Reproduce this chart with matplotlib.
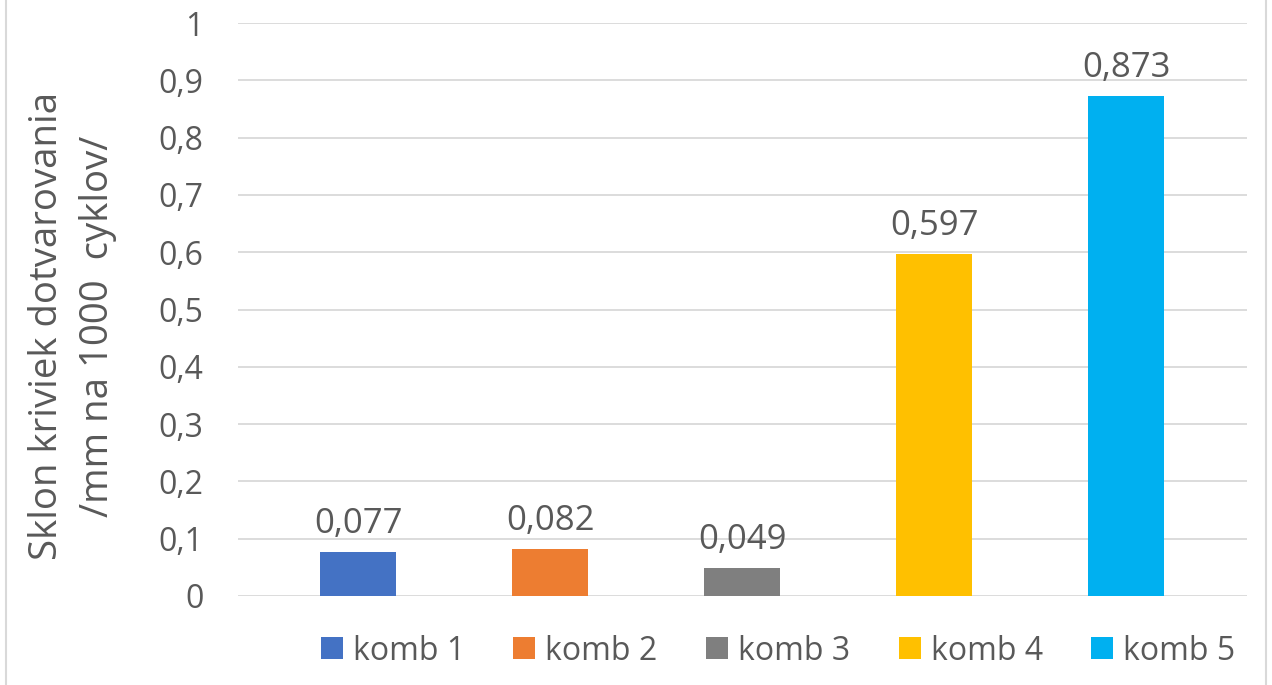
import matplotlib
matplotlib.use("Agg")
import matplotlib.pyplot as plt
from matplotlib.patches import Patch, Rectangle

categories = ["komb 1", "komb 2", "komb 3", "komb 4", "komb 5"]
values = [0.077, 0.082, 0.049, 0.597, 0.873]
colors = ["#4472C4", "#ED7D31", "#7F7F7F", "#FFC000", "#00B0F0"]
yticks = [0, 0.1, 0.2, 0.3, 0.4, 0.5, 0.6, 0.7, 0.8, 0.9, 1.0]
ylabel_lines = ["Sklon kriviek dotvarovania", "/mm na 1000  cyklov/"]

plt.rcParams["font.family"] = ["Open Sans", "DejaVu Sans"]
text_color = "#595959"
grid_color = "#D9D9D9"

W, H = 1272, 685
fig = plt.figure(figsize=(W / 100, H / 100), dpi=100)

# plot area in pixel coordinates
left, right, top, bottom = 238, 1247, 23, 596
ax = fig.add_axes([left / W, 1 - bottom / H, (right - left) / W, (bottom - top) / H])

x = list(range(len(categories)))
ax.bar(x, values, width=0.4, color=colors, zorder=3)

for xi, v in zip(x, values):
    ax.annotate(f"{v:.3f}".replace(".", ","), xy=(xi, v), xytext=(0, 13.5),
                textcoords="offset points", ha="center", va="baseline",
                fontsize=25, color=text_color)

ax.set_xlim(-0.625, 4.63)
ax.set_ylim(0, 1)
ax.set_yticks(yticks)
ax.set_yticklabels([("%g" % t).replace(".", ",") for t in yticks], fontsize=23, color=text_color)
ax.tick_params(axis="y", length=0, pad=25)
ax.set_xticks([])
ax.yaxis.grid(True, color=grid_color, linewidth=1.3, zorder=0)
for s in ax.spines.values():
    s.set_visible(False)

# two-line axis title, anchored at each line's baseline
for bx, line in zip((57, 108), ylabel_lines):
    fig.text(bx / W, 1 - 326 / H, line, rotation=90, rotation_mode="anchor",
             ha="center", va="baseline", fontsize=27.6, color=text_color)

handles = [Patch(facecolor=c, edgecolor="none") for c in colors]
fig.legend(handles, categories, loc="center", bbox_to_anchor=(778 / W, 1 - 651 / H),
           ncol=5, frameon=False, fontsize=23, handlelength=0.69, handleheight=0.69,
           handletextpad=0.31, columnspacing=1.52, borderpad=0, labelcolor=text_color)

# chart frame
fig.patches.append(Rectangle((6 / W, -0.01), (1266 - 6) / W, 1.05, transform=fig.transFigure,
                             fill=False, edgecolor="#D9D9D9", linewidth=1.5))

fig.savefig("out.png", dpi=100)
